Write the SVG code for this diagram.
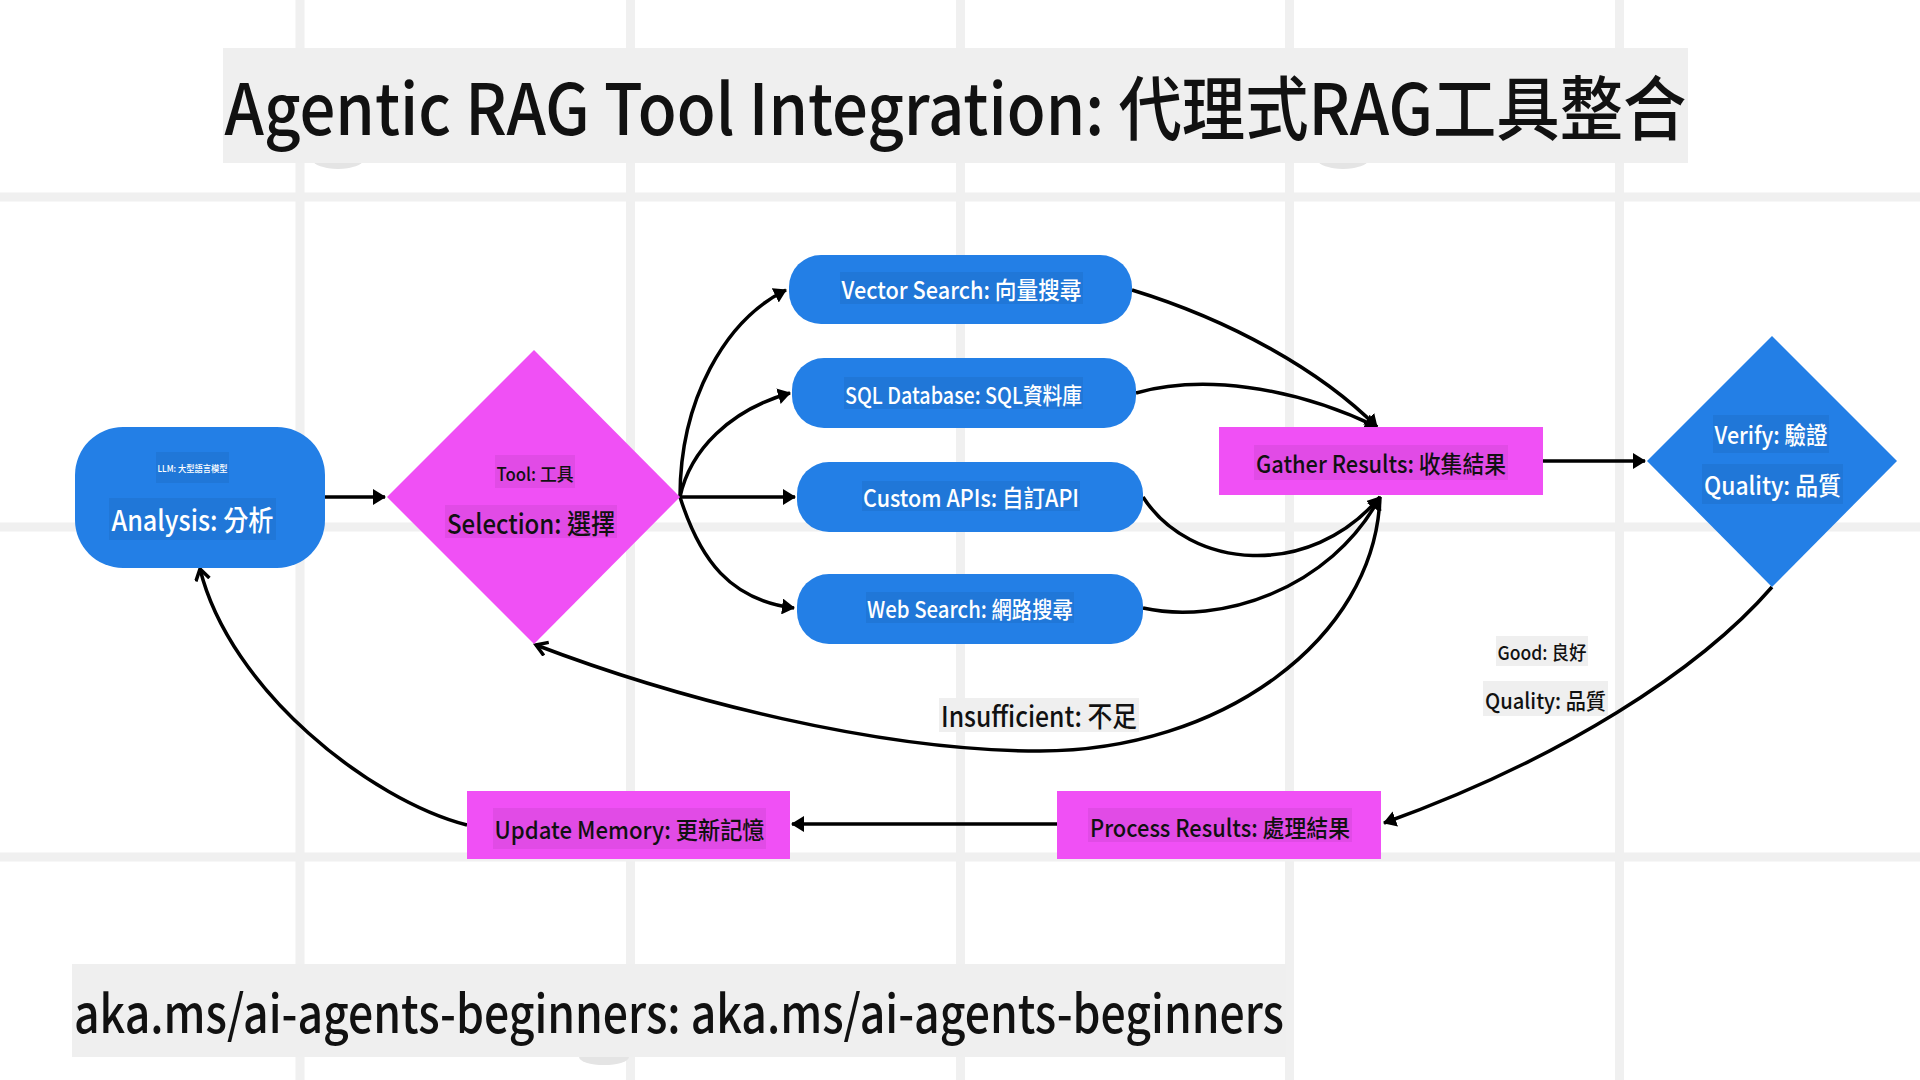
<svg xmlns="http://www.w3.org/2000/svg" width="1920" height="1080" viewBox="0 0 1920 1080">
<defs>
<style>
.grid{stroke:#f0f0f0;stroke-width:9}
.blue{fill:#237fe6}
.pink{fill:#f050f5}
.lbg{fill:#000;fill-opacity:0.06}
.ebg{fill:#efefef}
.blob{fill:#e4e4e4}
text{font-family:"Noto Sans CJK TC","Noto Sans","Liberation Sans",sans-serif;text-anchor:middle;font-weight:500}
.w{fill:#ffffff}
.k{fill:#111111}
.edge{fill:none;stroke:#000;stroke-width:3.5}
</style>
<marker id="tri" markerUnits="userSpaceOnUse" markerWidth="14" markerHeight="16" refX="12" refY="8" orient="auto">
<path d="M0,0 L13,8 L0,16 z" fill="#000"/>
</marker>
<marker id="vee" markerUnits="userSpaceOnUse" markerWidth="16" markerHeight="18" refX="12" refY="8" orient="auto">
<path d="M1,1 L12,8 L1,15" fill="none" stroke="#000" stroke-width="3.5"/>
</marker>
</defs>
<rect width="1920" height="1080" fill="#ffffff"/>
<g id="grid">
<line class="grid" x1="300" y1="0" x2="300" y2="1080"/>
<line class="grid" x1="630.5" y1="0" x2="630.5" y2="1080"/>
<line class="grid" x1="960.5" y1="0" x2="960.5" y2="1080"/>
<line class="grid" x1="1289.5" y1="0" x2="1289.5" y2="1080"/>
<line class="grid" x1="1619.5" y1="0" x2="1619.5" y2="1080"/>
<line class="grid" x1="0" y1="197" x2="1920" y2="197"/>
<line class="grid" x1="0" y1="527" x2="1920" y2="527"/>
<line class="grid" x1="0" y1="857" x2="1920" y2="857"/>
</g>
<g id="title">
<ellipse class="blob" cx="338" cy="160" rx="25" ry="9"/>
<ellipse class="blob" cx="1343" cy="160" rx="25" ry="9"/>
<rect class="ebg" x="223" y="48" width="1465" height="115"/>
<text class="k" x="955.5" y="135" font-size="70" textLength="1462" lengthAdjust="spacingAndGlyphs">Agentic RAG Tool Integration: 代理式RAG工具整合</text>
</g>
<g id="connectors">
<path class="edge" d="M325,497 L385,497" marker-end="url(#tri)"/>
<path class="edge" d="M680,497 C680,400 725,320 786,290" marker-end="url(#tri)"/>
<path class="edge" d="M680,497 C690,450 730,410 790,393" marker-end="url(#tri)"/>
<path class="edge" d="M680,497 L795,497" marker-end="url(#tri)"/>
<path class="edge" d="M680,497 C700,560 730,600 794,608" marker-end="url(#tri)"/>
<path class="edge" d="M1132,290 C1230,320 1320,370 1377,427" marker-end="url(#tri)"/>
<path class="edge" d="M1136,393 C1200,375 1290,385 1377,427" marker-end="url(#tri)"/>
<path class="edge" d="M1143,497 C1190,570 1310,580 1380,497" marker-end="url(#tri)"/>
<path class="edge" d="M1143,608 C1220,625 1330,590 1380,497" marker-end="url(#tri)"/>
<path class="edge" d="M1543,461 L1645,461" marker-end="url(#tri)"/>
<path class="edge" d="M1380,497 C1375,640 1220,751 1040,751 C880,751 680,700 536,645" marker-end="url(#vee)"/>
<path class="edge" d="M1772,587 C1700,670 1560,760 1384,823" marker-end="url(#tri)"/>
<path class="edge" d="M1057,824 L792,824" marker-end="url(#tri)"/>
<path class="edge" d="M467,825 C370,800 230,690 200,569" marker-end="url(#vee)"/>
<g id="edge-labels">
<rect class="ebg" x="939" y="698" width="200" height="34"/>
<text class="k" x="1039" y="727" font-size="28" textLength="196" lengthAdjust="spacingAndGlyphs">Insufficient: 不足</text>
<rect class="ebg" x="1496" y="636" width="92" height="30"/>
<text class="k" x="1542" y="660" font-size="19" textLength="89" lengthAdjust="spacingAndGlyphs">Good: 良好</text>
<rect class="ebg" x="1483" y="681" width="125" height="35"/>
<text class="k" x="1545.5" y="709" font-size="22" textLength="121" lengthAdjust="spacingAndGlyphs">Quality: 品質</text>
</g>
</g>
<g id="analysis">
<rect class="blue" x="75" y="427" width="250" height="141" rx="48" ry="48"/>
<rect class="lbg" x="156" y="452" width="73" height="31"/>
<text class="w" x="192.5" y="472" font-size="9" textLength="70" lengthAdjust="spacingAndGlyphs">LLM: 大型語言模型</text>
<rect class="lbg" x="109" y="498" width="167" height="42"/>
<text class="w" x="192.5" y="531" font-size="28" textLength="162" lengthAdjust="spacingAndGlyphs">Analysis: 分析</text>
</g>
<g id="tool-selection">
<polygon class="pink" points="534,350 680,497 534,644 387,497"/>
<rect class="lbg" x="495" y="455" width="80" height="33"/>
<text class="k" x="535" y="481" font-size="18" textLength="77" lengthAdjust="spacingAndGlyphs">Tool: 工具</text>
<rect class="lbg" x="445" y="505" width="172" height="33"/>
<text class="k" x="531" y="534" font-size="27" textLength="168" lengthAdjust="spacingAndGlyphs">Selection: 選擇</text>
</g>
<g id="vector-search">
<rect class="blue" x="789" y="255" width="343" height="69" rx="32" ry="32"/>
<rect class="lbg" x="840" y="272" width="243" height="32"/>
<text class="w" x="961.5" y="299" font-size="24" textLength="240" lengthAdjust="spacingAndGlyphs">Vector Search: 向量搜尋</text>
</g>
<g id="sql-database">
<rect class="blue" x="792" y="358" width="344" height="70" rx="32" ry="32"/>
<rect class="lbg" x="844" y="377" width="239" height="32"/>
<text class="w" x="963.5" y="404" font-size="23" textLength="237" lengthAdjust="spacingAndGlyphs">SQL Database: SQL資料庫</text>
</g>
<g id="custom-apis">
<rect class="blue" x="797" y="462" width="346" height="70" rx="32" ry="32"/>
<rect class="lbg" x="862" y="481" width="218" height="30"/>
<text class="w" x="971" y="507" font-size="24" textLength="216" lengthAdjust="spacingAndGlyphs">Custom APIs: 自訂API</text>
</g>
<g id="web-search">
<rect class="blue" x="797" y="574" width="346" height="70" rx="32" ry="32"/>
<rect class="lbg" x="866" y="592" width="208" height="31"/>
<text class="w" x="970" y="618" font-size="23" textLength="206" lengthAdjust="spacingAndGlyphs">Web Search: 網路搜尋</text>
</g>
<g id="gather-results">
<rect class="pink" x="1219" y="427" width="324" height="68"/>
<rect class="lbg" x="1254" y="445" width="254" height="35"/>
<text class="k" x="1381" y="473" font-size="24" textLength="250" lengthAdjust="spacingAndGlyphs">Gather Results: 收集結果</text>
</g>
<g id="verify-quality">
<polygon class="blue" points="1772,336 1897,461 1772,587 1647,461"/>
<rect class="lbg" x="1713" y="415" width="116" height="38"/>
<text class="w" x="1771" y="444" font-size="24" textLength="113" lengthAdjust="spacingAndGlyphs">Verify: 驗證</text>
<rect class="lbg" x="1702" y="464" width="141" height="40"/>
<text class="w" x="1772.5" y="495" font-size="25" textLength="137" lengthAdjust="spacingAndGlyphs">Quality: 品質</text>
</g>
<g id="process-results">
<rect class="pink" x="1057" y="791" width="324" height="68"/>
<rect class="lbg" x="1088" y="808" width="264" height="34"/>
<text class="k" x="1220" y="837" font-size="24" textLength="260" lengthAdjust="spacingAndGlyphs">Process Results: 處理結果</text>
</g>
<g id="update-memory">
<rect class="pink" x="467" y="791" width="323" height="68"/>
<rect class="lbg" x="493" y="808" width="273" height="41"/>
<text class="k" x="629.5" y="839" font-size="24" textLength="270" lengthAdjust="spacingAndGlyphs">Update Memory: 更新記憶</text>
</g>
<g id="footer">
<ellipse class="blob" cx="604" cy="1057" rx="25" ry="8"/>
<rect class="ebg" x="72" y="964" width="1214" height="93"/>
<text class="k" x="679" y="1033" font-size="52" textLength="1210" lengthAdjust="spacingAndGlyphs">aka.ms/ai-agents-beginners: aka.ms/ai-agents-beginners</text>
</g>
</svg>
